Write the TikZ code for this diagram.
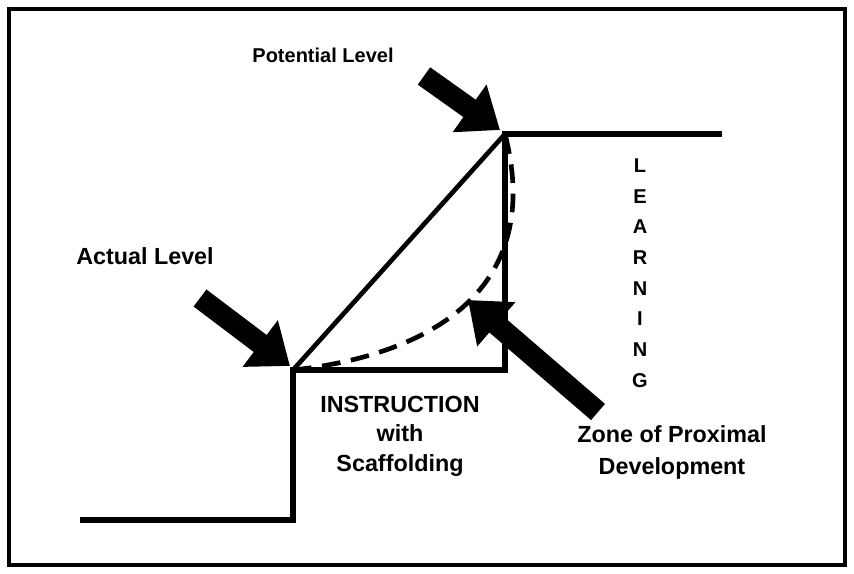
\documentclass[tikz,border=0pt]{standalone}
\usepackage{fontspec}
\setmainfont{Liberation Sans}
\usetikzlibrary{arrows.meta}
\begin{document}
\begin{tikzpicture}[x=0.75pt,y=-0.75pt,
  stepline/.style={line width=4pt,line join=miter},
  blockarrow/.style={line width=16pt,-{Triangle[length=28pt,width=42pt]}},
  lbl/.style={font=\bfseries\fontsize{15}{18}\selectfont,align=center,inner sep=0pt},
  biglbl/.style={lbl,font=\bfseries\fontsize{17.5}{20}\selectfont}]
\useasboundingbox (0,0) rectangle (854,574);
\draw[line width=3.5pt] (9,9) rectangle (845,565);
\coordinate (a0) at (80,520);
\coordinate (a1) at (293,520);
\coordinate (al) at (293,370);
\coordinate (c) at (505,370);
\coordinate (pl) at (505,134);
\coordinate (p1) at (722,134);
\draw[stepline] (a0) -- (a1) -- (al) -- (c) -- (pl) -- (p1);
\draw[line width=3.5pt] (al) -- (pl);
\draw[line width=3.5pt,dashed,dash pattern=on 14pt off 8pt] (al) .. controls (430,355) and (545,290) .. (pl);
\coordinate (s1) at (200,298);
\coordinate (s2) at (424,76);
\coordinate (s3) at (598,412);
\draw[blockarrow] (s1) -- (290,366);
\draw[blockarrow] (s2) -- (500,130);
\draw[blockarrow] (s3) -- (468,300);
\node[lbl] (pt) at (323,55) {Potential Level};
\node[biglbl] (at) at (145,256) {Actual Level};
\node[biglbl] (ins) at (400,436) {INSTRUCTION\\[2pt]with\\[2pt]Scaffolding};
\node[biglbl] (zpd) at (672,452) {Zone of Proximal\\[4pt]Development};
\node[lbl] (lr) at (640,273) {L\\[5pt]E\\[5pt]A\\[5pt]R\\[5pt]N\\[5pt]I\\[5pt]N\\[5pt]G};
\end{tikzpicture}
\end{document}
